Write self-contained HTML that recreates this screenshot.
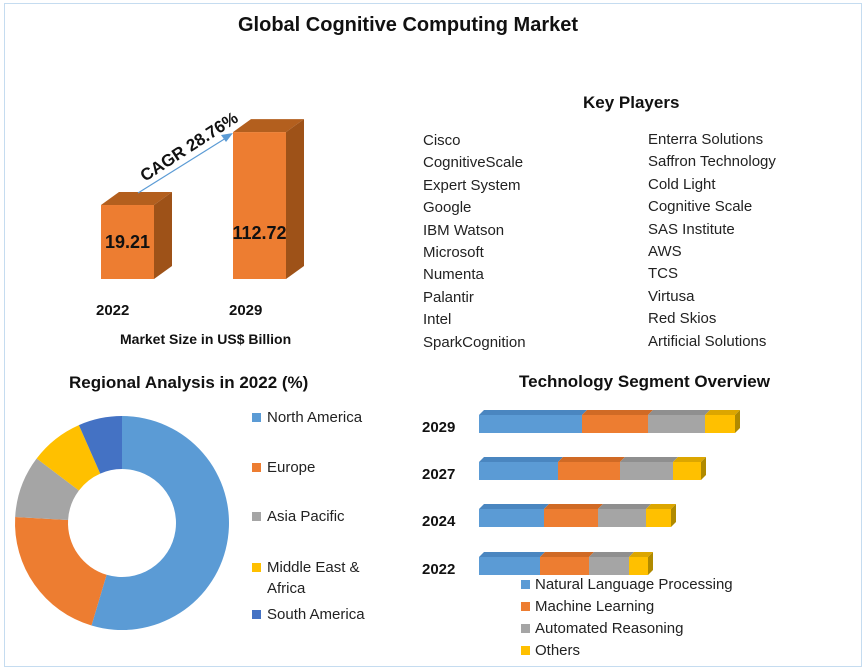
<!DOCTYPE html>
<html><head><meta charset="utf-8">
<style>
body{margin:0;background:#fff;font-family:"Liberation Sans",Arial,sans-serif}
#wrap{position:relative;width:868px;height:672px;overflow:hidden}
.frame{position:absolute;left:4px;top:3px;width:858px;height:664px;border:1px solid #c5dcf0;box-sizing:border-box}
.t{position:absolute;white-space:nowrap}
.b{font-weight:bold;color:#111}
.kp{font-size:15px;color:#222;line-height:22.4px}
.lg{font-size:15px;color:#222}
</style></head><body>
<div id="wrap">
<div class="frame"></div>
<div class="t b" style="left:238px;top:14px;font-size:20px">Global Cognitive Computing Market</div>

<svg width="868" height="672" style="position:absolute;left:0;top:0">
 <g id="market"></g>
 <g id="donut"></g>
 <g id="tech"></g>
</svg>

<div class="t b" style="left:583px;top:93px;font-size:17px">Key Players</div>
<div class="t kp" style="left:423px;top:130px">Cisco<br>CognitiveScale<br>Expert System<br>Google<br>IBM Watson<br>Microsoft<br>Numenta<br>Palantir<br>Intel<br>SparkCognition</div>
<div class="t kp" style="left:648px;top:129px">Enterra Solutions<br>Saffron Technology<br>Cold Light<br>Cognitive Scale<br>SAS Institute<br>AWS<br>TCS<br>Virtusa<br>Red Skios<br>Artificial Solutions</div>

<div class="t b" style="left:96px;top:302px;font-size:15px">2022</div>
<div class="t b" style="left:229px;top:302px;font-size:15px">2029</div>
<div class="t b" style="left:120px;top:331px;font-size:14px">Market Size in US$ Billion</div>
<div class="t b" style="left:69px;top:373px;font-size:17px">Regional Analysis in 2022 (%)</div>
<div class="t b" style="left:519px;top:372px;font-size:17px">Technology Segment Overview</div>

<div>
<div class="t lg" style="left:252px;top:409px"><span style="display:inline-block;width:9px;height:9px;background:#5b9bd5;margin-right:6px"></span>North America</div>
<div class="t lg" style="left:252px;top:459px"><span style="display:inline-block;width:9px;height:9px;background:#ed7d31;margin-right:6px"></span>Europe</div>
<div class="t lg" style="left:252px;top:508px"><span style="display:inline-block;width:9px;height:9px;background:#a5a5a5;margin-right:6px"></span>Asia Pacific</div>
<div class="t lg" style="left:252px;top:557px;line-height:21px"><span style="display:inline-block;width:9px;height:9px;background:#ffc000;margin-right:6px"></span>Middle East &amp;<br><span style="margin-left:15px">Africa</span></div>
<div class="t lg" style="left:252px;top:606px"><span style="display:inline-block;width:9px;height:9px;background:#4472c4;margin-right:6px"></span>South America</div>
</div>

<div>
<div class="t lg" style="left:521px;top:576px"><span style="display:inline-block;width:9px;height:9px;background:#5b9bd5;margin-right:5px"></span>Natural Language Processing</div>
<div class="t lg" style="left:521px;top:598px"><span style="display:inline-block;width:9px;height:9px;background:#ed7d31;margin-right:5px"></span>Machine Learning</div>
<div class="t lg" style="left:521px;top:620px"><span style="display:inline-block;width:9px;height:9px;background:#a5a5a5;margin-right:5px"></span>Automated Reasoning</div>
<div class="t lg" style="left:521px;top:642px"><span style="display:inline-block;width:9px;height:9px;background:#ffc000;margin-right:5px"></span>Others</div>
</div>
</div>
<script>
const NS="http://www.w3.org/2000/svg";
const marketYears=["2022","2029"];
const marketValues=[19.21,112.72];
const regionNames=["North America","Europe","Asia Pacific","Middle East & Africa","South America"];
const regionShares=[54.6,21.3,9.4,8.1,6.6];
const techYears=["2029","2027","2024","2022"];
const nlp=[103,79,65,61];
const ml=[66,62,54,49];
const ar=[57,53,48,40];
const others=[30,28,25,19];

function mk(tag,attrs,parent){const e=document.createElementNS(NS,tag);for(const k in attrs)e.setAttribute(k,attrs[k]);parent.appendChild(e);return e;}

// market bars (pictorial scale with offset baseline)
const mg=document.getElementById("market");
const baseY=279;
const mHeight=v=>59+v*0.78;
const mx=[101,233], bw=53, dp=18;
marketValues.forEach((v,i)=>{
  const h=mHeight(v), x=mx[i], y=baseY-h;
  const g=mk("g",{},mg);
  
  
  mk("polygon",{points:`${x},${y} ${x+dp},${y-13} ${x+bw+dp},${y-13} ${x+bw},${y}`,fill:"#b35f1e"},g);
  mk("polygon",{points:`${x+bw},${y} ${x+bw+dp},${y-13} ${x+bw+dp},${baseY-13} ${x+bw},${baseY}`,fill:"#9e5218"},g);
  mk("rect",{x:x,y:y,width:bw,height:h,fill:"#ed7d31"},g);
  const cyL=Math.max(y+h/2, baseY-46);
  const t=mk("text",{x:x+bw/2,y:cyL+6,"text-anchor":"middle","font-size":"18","font-weight":"bold",fill:"#111","font-family":"Liberation Sans"},g);
  t.textContent=v.toFixed(2);
  
  
});
const ar1=mk("line",{x1:138,y1:193,x2:226,y2:138,stroke:"#5b9bd5","stroke-width":"1.2"},mg);


mk("polygon",{points:"233,133 221,135 226,142",fill:"#5b9bd5"},mg);
const ct=mk("text",{x:0,y:0,"font-size":"17","font-weight":"bold",fill:"#111",transform:"translate(145,182) rotate(-33)","font-family":"Liberation Sans"},mg);
ct.textContent="CAGR 28.76%";



// donut
const dg=document.getElementById("donut");
const cx=122,cy=523,R=107,r=54;
const rc=["#5b9bd5","#ed7d31","#a5a5a5","#ffc000","#4472c4"];
const tot=regionShares.reduce((a,b)=>a+b,0);
let a0=0;
regionShares.forEach((s,i)=>{
  const a1=a0+s/tot*2*Math.PI;
  const p=(a,rad)=>[cx+rad*Math.sin(a),cy-rad*Math.cos(a)];
  const [x0,y0]=p(a0,R),[x1,y1]=p(a1,R),[x2,y2]=p(a1,r),[x3,y3]=p(a0,r);
  const lg=(a1-a0)>Math.PI?1:0;
  const path=mk("path",{d:`M${x0},${y0}A${R},${R} 0 ${lg} 1 ${x1},${y1}L${x2},${y2}A${r},${r} 0 ${lg} 0 ${x3},${y3}Z`,fill:rc[i]},dg);
  
  
  a0=a1;
});

// tech bars
const tg=document.getElementById("tech");
const tx0=479, tScale=1, rowY=[415,462,509,557], bh=18, d=5;
const series=[nlp,ml,ar,others], tc=["#5b9bd5","#ed7d31","#a5a5a5","#ffc000"], tcTop=["#4a86c0","#d06a25","#8f8f8f","#dca600"];
techYears.forEach((yr,i)=>{
  let x=tx0; const y=rowY[i];
  series.forEach((s,j)=>{
    const w=s[i]*tScale;
    mk("polygon",{points:`${x},${y} ${x+d},${y-d} ${x+w+d},${y-d} ${x+w},${y}`,fill:tcTop[j]},tg);
    const rc2=mk("rect",{x:x,y:y,width:w,height:bh,fill:tc[j]},tg);
    
    
    x+=w;
  });
  mk("polygon",{points:`${x},${y} ${x+d},${y-d} ${x+d},${y+bh-d} ${x},${y+bh}`,fill:"#b08a00"},tg);
  const t=mk("text",{x:422,y:y+bh-1,"font-size":"15","font-weight":"bold",fill:"#111","font-family":"Liberation Sans"},tg);
  t.textContent=yr;
  
  
});
</script>
</body></html>
